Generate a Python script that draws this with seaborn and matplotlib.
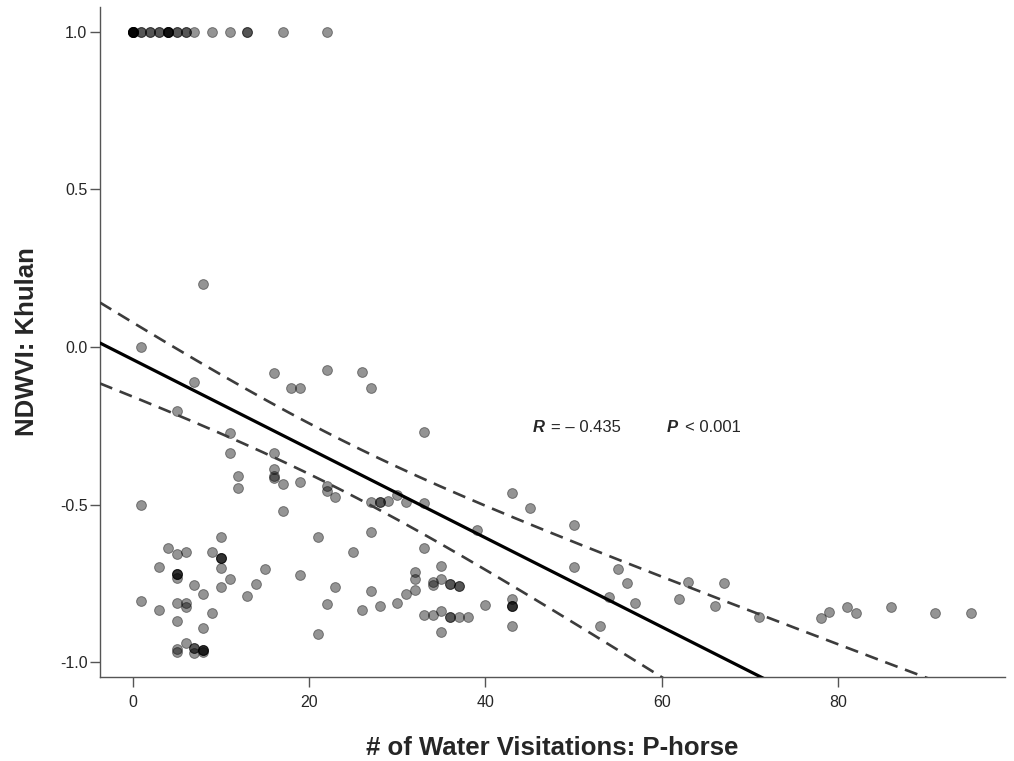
import matplotlib
matplotlib.use("Agg")
import matplotlib.pyplot as plt
import numpy as np
import pandas as pd
import seaborn as sns

# points sitting on the NDWVI = 1.0 ceiling (repeats = overlapping dots)
top_visits = [0, 0, 0, 0, 0, 0, 0, 1, 1, 2, 2, 3, 3, 4, 4, 4, 4, 4, 5, 5, 6, 6, 7, 9, 11, 13, 13, 17, 22]

# everything else
other_visits = [
    8, 1, 16, 22, 26, 18, 19, 27, 7, 5,
    11, 11, 16, 16, 16, 16, 12, 12, 17, 19,
    22, 22, 23, 1, 17, 27, 28, 28, 29, 30,
    31, 33, 33, 43, 45, 39, 50, 50, 33, 35,
    32, 32, 34, 34, 35, 36, 36, 37, 37, 31,
    32, 30, 40, 43, 43, 43, 43, 43, 33, 34,
    35, 36, 36, 37, 38, 35, 10, 4, 5, 6,
    9, 10, 10, 10, 3, 5, 5, 5, 5, 10,
    11, 7, 8, 10, 13, 14, 15, 19, 21, 25,
    27, 23, 27, 22, 26, 28, 21, 1, 3, 5,
    6, 6, 9, 5, 8, 6, 5, 5, 7, 7,
    7, 8, 8, 8, 8, 55, 56, 54, 57, 53,
    63, 67, 62, 66, 71, 78, 79, 81, 82, 86,
    91, 95,
]
other_ndwvi = [
    0.2, 0.0, -0.082, -0.074, -0.078, -0.13, -0.13, -0.13, -0.112, -0.202,
    -0.274, -0.335, -0.335, -0.386, -0.409, -0.416, -0.41, -0.446, -0.435, -0.429,
    -0.44, -0.455, -0.475, -0.502, -0.519, -0.492, -0.491, -0.491, -0.487, -0.468,
    -0.492, -0.496, -0.27, -0.463, -0.509, -0.58, -0.564, -0.698, -0.638, -0.693,
    -0.714, -0.735, -0.746, -0.754, -0.735, -0.751, -0.751, -0.757, -0.757, -0.783,
    -0.77, -0.81, -0.819, -0.8, -0.82, -0.82, -0.82, -0.883, -0.849, -0.849,
    -0.836, -0.857, -0.857, -0.857, -0.857, -0.902, -0.601, -0.638, -0.656, -0.649,
    -0.649, -0.669, -0.669, -0.669, -0.698, -0.72, -0.72, -0.72, -0.733, -0.702,
    -0.735, -0.754, -0.783, -0.762, -0.79, -0.75, -0.704, -0.723, -0.601, -0.649,
    -0.587, -0.76, -0.772, -0.816, -0.834, -0.822, -0.91, -0.806, -0.834, -0.813,
    -0.81, -0.823, -0.844, -0.868, -0.89, -0.937, -0.957, -0.968, -0.953, -0.953,
    -0.971, -0.96, -0.96, -0.96, -0.968, -0.705, -0.747, -0.791, -0.81, -0.885,
    -0.745, -0.749, -0.799, -0.82, -0.855, -0.858, -0.839, -0.824, -0.843, -0.825,
    -0.842, -0.842,
]

y_ticks = [-1.0, -0.5, 0.0, 0.5, 1.0]
x_ticks = [0, 20, 40, 60, 80]

df = pd.DataFrame({
    "visits": top_visits + other_visits,
    "ndwvi": [1.0] * len(top_visits) + other_ndwvi,
})

sns.set_style("white")
plt.rcParams["font.family"] = ["Liberation Sans", "DejaVu Sans"]

fig = plt.figure(figsize=(10.14, 7.61), dpi=100)
ax = fig.add_axes([0.0986, 0.1104, 0.8925, 0.8804])

sns.scatterplot(data=df, x="visits", y="ndwvi", ax=ax, color="black", alpha=0.42,
                s=50, edgecolor="black", linewidth=0.7, zorder=3)

# least squares fit + confidence band of the mean
x = df["visits"].to_numpy(float)
y = df["ndwvi"].to_numpy(float)
n = len(x)
slope, intercept = np.polyfit(x, y, 1)
resid = y - (intercept + slope * x)
s_err = np.sqrt(np.sum(resid ** 2) / (n - 2))
sxx = np.sum((x - x.mean()) ** 2)
t_val = 1.655  # 90% band

xlim = (-3.7, 98.9)
grid = np.linspace(xlim[0], xlim[1], 300)
fit = intercept + slope * grid
half = t_val * s_err * np.sqrt(1.0 / n + (grid - x.mean()) ** 2 / sxx)

ax.plot(grid, fit, color="black", lw=2.3, zorder=4)
for band in (fit + half, fit - half):
    ax.plot(grid, band, color="#3c3c3c", lw=1.9, linestyle=(0, (5, 3)), zorder=4)

ax.set_xlim(*xlim)
ax.set_ylim(-1.046, 1.078)
ax.set_xticks(x_ticks)
ax.set_yticks(y_ticks)
ax.set_yticklabels([f"{v:.1f}" for v in y_ticks])

for side in ["top", "right"]:
    ax.spines[side].set_visible(False)
for side in ["left", "bottom"]:
    ax.spines[side].set_color("#555555")
    ax.spines[side].set_linewidth(1.0)
ax.tick_params(axis="x", direction="out", length=7, width=1, color="#555555",
               labelsize=11.5, pad=6, bottom=True)
ax.tick_params(axis="y", direction="out", length=7, width=1, color="#555555",
               labelsize=11.5, pad=2, left=True)

ax.set_xlabel("# of Water Visitations: P-horse", fontsize=18.5, fontweight="bold")
ax.set_ylabel("NDWVI: Khulan", fontsize=18.5, fontweight="bold")
ax.xaxis.set_label_coords(0.5, -0.088)
ax.yaxis.set_label_coords(-0.067, 0.5)

ax.text(45.4, -0.254, "R", fontsize=12, fontweight="bold", fontstyle="italic", va="center")
ax.text(47.4, -0.254, "= \u2013 0.435", fontsize=12, va="center")
ax.text(60.6, -0.254, "P", fontsize=12, fontweight="bold", fontstyle="italic", va="center")
ax.text(62.6, -0.254, "< 0.001", fontsize=12, va="center")

fig.savefig("out.png", dpi=100)
